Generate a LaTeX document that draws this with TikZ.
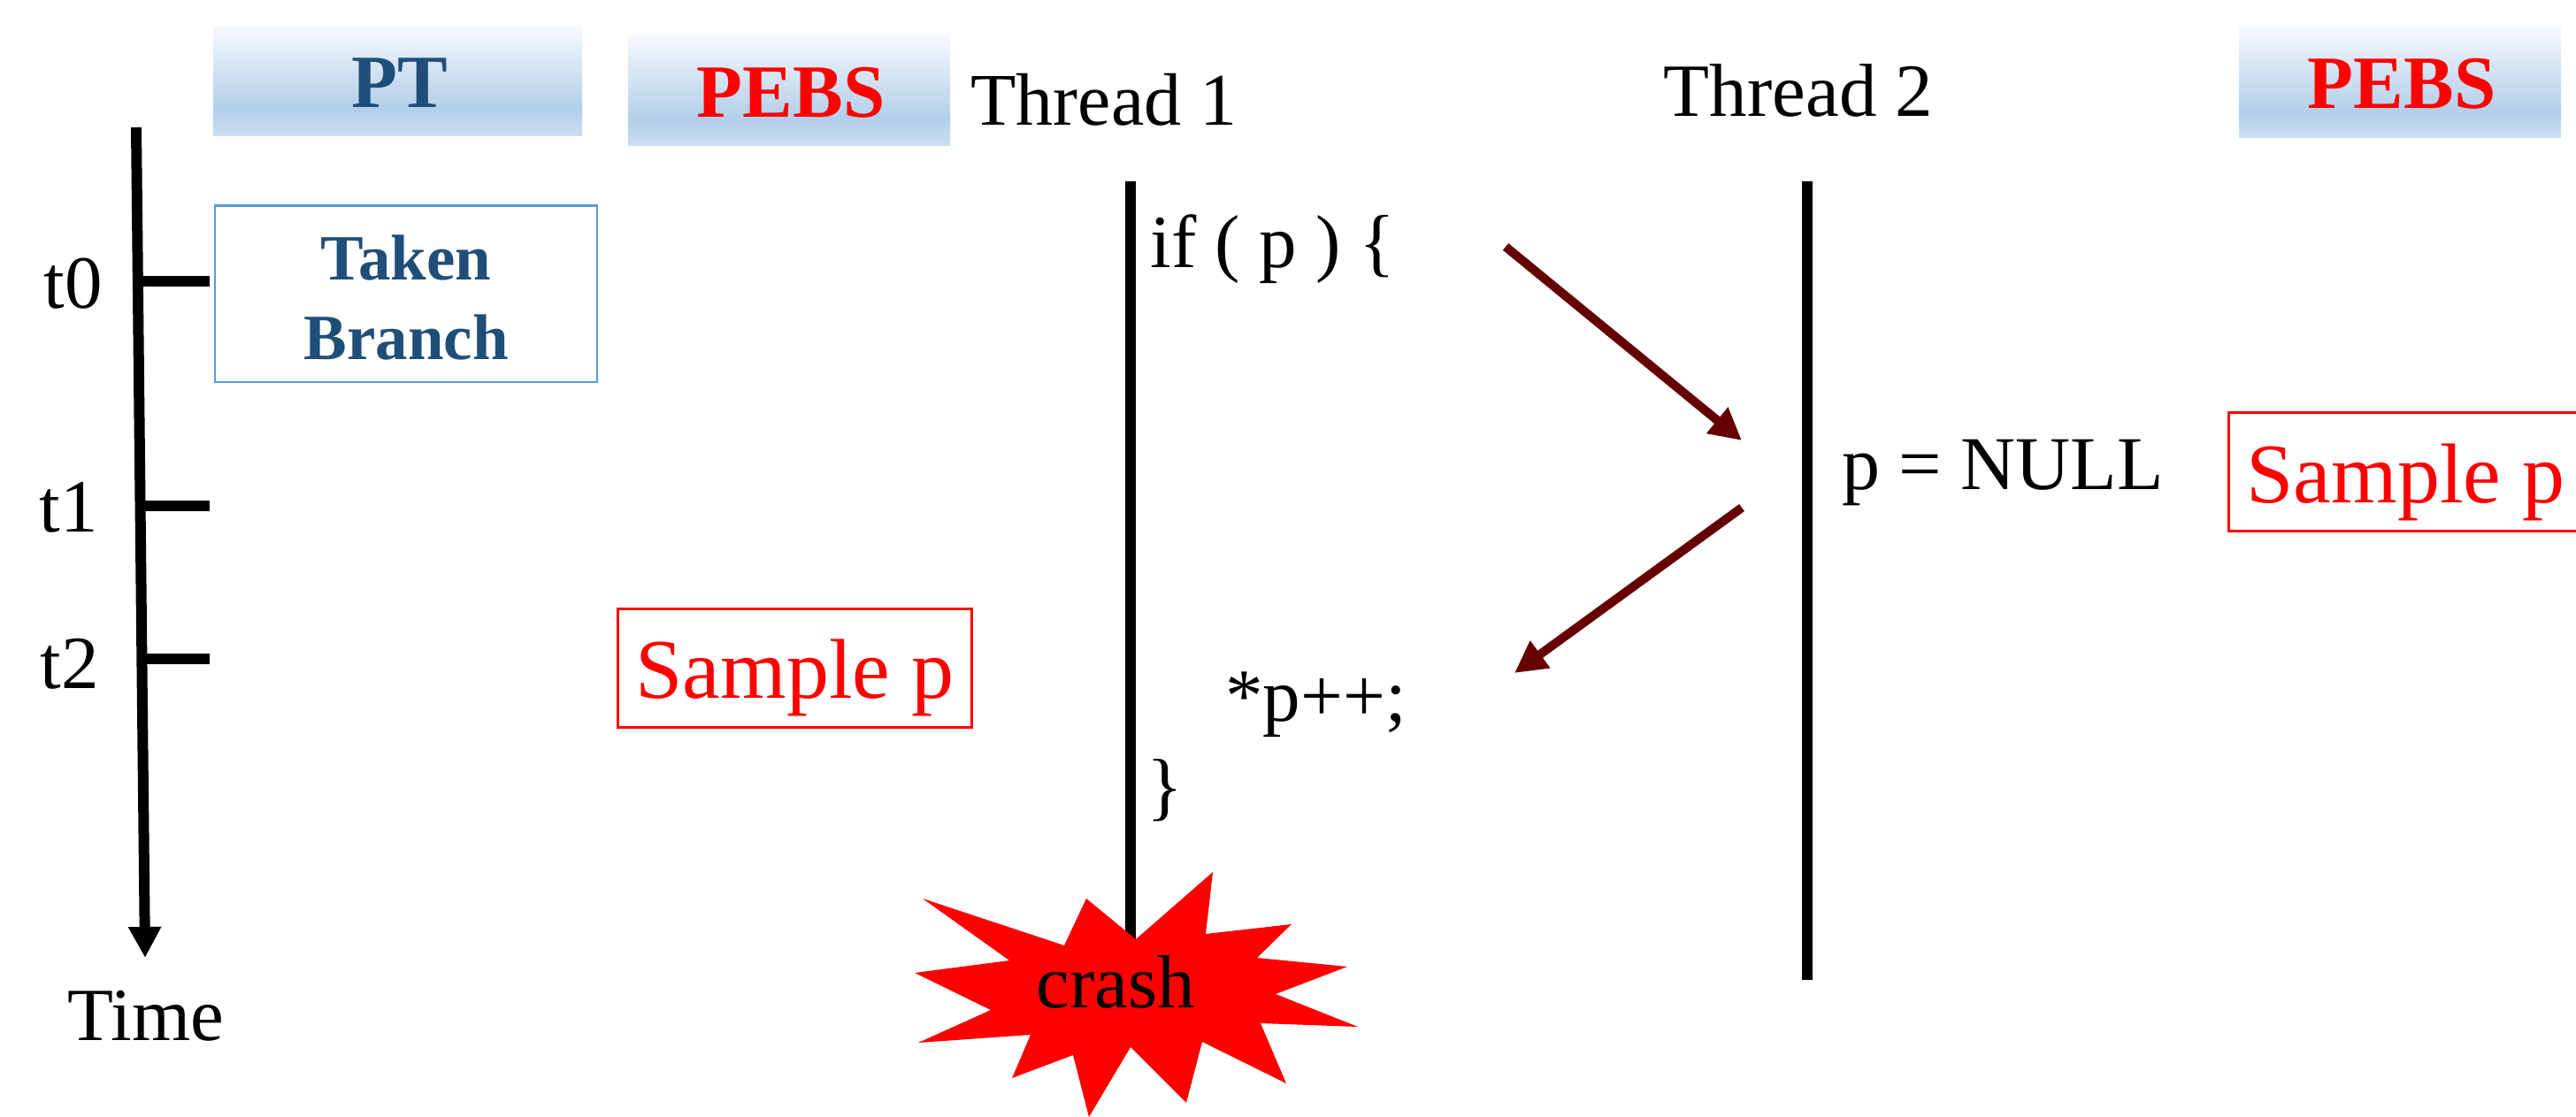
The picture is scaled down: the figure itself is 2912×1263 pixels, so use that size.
\documentclass[tikz,border=0pt]{standalone}
\usepackage{fontspec}
\setmainfont{Liberation Serif}
\usetikzlibrary{arrows.meta}
\definecolor{hdrT}{HTML}{F6F9FD}
\definecolor{hdrM}{HTML}{B2CFE9}
\definecolor{hdrB}{HTML}{CBDEF1}
\definecolor{ptblue}{HTML}{1F4E79}
\definecolor{boxblue}{HTML}{5B9BD5}
\definecolor{darkred}{HTML}{660000}
\pgfdeclareverticalshading{hdrshade}{100bp}{color(0bp)=(hdrB); color(25bp)=(hdrB); color(37bp)=(hdrM); color(75bp)=(hdrT); color(100bp)=(hdrT)}
\tikzset{
  x=0.5pt,y=-0.5pt,
  txt/.style={inner sep=0pt,anchor=base,font=\fontsize{42.5}{50}\selectfont},
  hdr/.style={shading=hdrshade,inner sep=0pt,outer sep=0pt,anchor=north west,font=\fontsize{42.5}{50}\selectfont\bfseries},
  samplebox/.style={draw=red,line width=1.5pt,inner sep=0pt,outer sep=0pt,anchor=north west,text=red,minimum width=200pt,
    font=\fontsize{48}{56}\selectfont},
  bar/.style={line width=6pt,black},
  link/.style={line width=5pt,darkred,-{Triangle[length=18pt,width=18pt]}},
}
\begin{document}
\begin{tikzpicture}
\useasboundingbox (0,0) rectangle (2912,1263);
% headers
\node[hdr,text=ptblue,minimum width=208.5pt,text height=46pt,text depth=15.5pt] (pt) at (241,30) {\hspace*{2pt}PT};
\node[hdr,text=red,minimum width=182pt,text height=46.5pt,text depth=15.5pt] (pebsL) at (710,40) {\hspace*{2pt}PEBS};
\node[hdr,text=red,minimum width=182pt,text height=46pt,text depth=16pt] (pebsR) at (2531,31) {\hspace*{2pt}PEBS};
% taken branch
\node[draw=boxblue,line width=1.25pt,inner sep=0pt,outer sep=0pt,anchor=north west,minimum width=216pt,minimum height=99.75pt,
  text=ptblue,align=center,font=\fontsize{36.5}{45}\selectfont\bfseries] (taken) at (243,232.5) {\rule{0pt}{30pt}Taken\\Branch};
% time axis
\coordinate (axisTop) at (154,144);
\coordinate (axisEnd) at (164,1083);
\draw[bar,-{Triangle[length=17.5pt,width=17.5pt]}] (axisTop) -- (axisEnd);
\coordinate (a0) at (157,318); \coordinate (e0) at (237,318);
\coordinate (a1) at (158,572); \coordinate (e1) at (237,572);
\coordinate (a2) at (160,745); \coordinate (e2) at (237,745);
\draw[bar] (a0) -- (e0);
\draw[bar] (a1) -- (e1);
\draw[bar] (a2) -- (e2);
\node[txt] (t0) at (83,348) {t0};
\node[txt] (t1) at (78,601) {t1};
\node[txt] (t2) at (79,778) {t2};
\node[txt] (time) at (165,1176) {Time};
% samples
\node[samplebox,text height=50.5pt,text depth=16.5pt] (sampleL) at (698.5,688) {Sample p};
\node[samplebox,text height=50.75pt,text depth=16.25pt] (sampleR) at (2519.5,466.5) {Sample p};
% threads
\node[txt,font=\fontsize{42}{50}\selectfont] (th1) at (1248,141) {Thread 1};
\node[txt] (th2) at (2033,132) {Thread 2};
\coordinate (t1top) at (1278,205);
\coordinate (t1bot) at (1278,1100);
\coordinate (t2top) at (2043,205);
\coordinate (t2bot) at (2043,1108);
\draw[bar] (t1top) -- (t1bot);
\draw[bar] (t2top) -- (t2bot);
\node[txt] (ifp) at (1439,302) {if ( p ) \{};
\node[txt] (deref) at (1487.5,815) {*p++;};
\node[txt] (close) at (1317,917) {\}};
\node[txt,font=\fontsize{43}{50}\selectfont] (pnull) at (2264,553) {p = NULL};
% interleaving arrows
\coordinate (a1s) at (1702,279); \coordinate (a1e) at (1969,498);
\coordinate (a2s) at (1969,574); \coordinate (a2e) at (1712,761);
\draw[link] (a1s) -- (a1e);
\draw[link] (a2s) -- (a2e);
% crash burst
\fill[red] (1043,1016) -- (1203,1069) -- (1228,1016) -- (1284,1062) -- (1371,986) -- (1363,1056)
  -- (1460,1045) -- (1421,1083) -- (1523,1093) -- (1442,1124) -- (1535,1161) -- (1425,1157)
  -- (1454,1225) -- (1359,1178) -- (1341,1247) -- (1278,1184) -- (1231,1263) -- (1213,1193)
  -- (1144,1219) -- (1165,1170) -- (1038,1179) -- (1120,1142) -- (1034,1100) -- (1141,1086) -- cycle;
\node[txt] (crash) at (1261,1139) {crash};
\end{tikzpicture}
\end{document}
